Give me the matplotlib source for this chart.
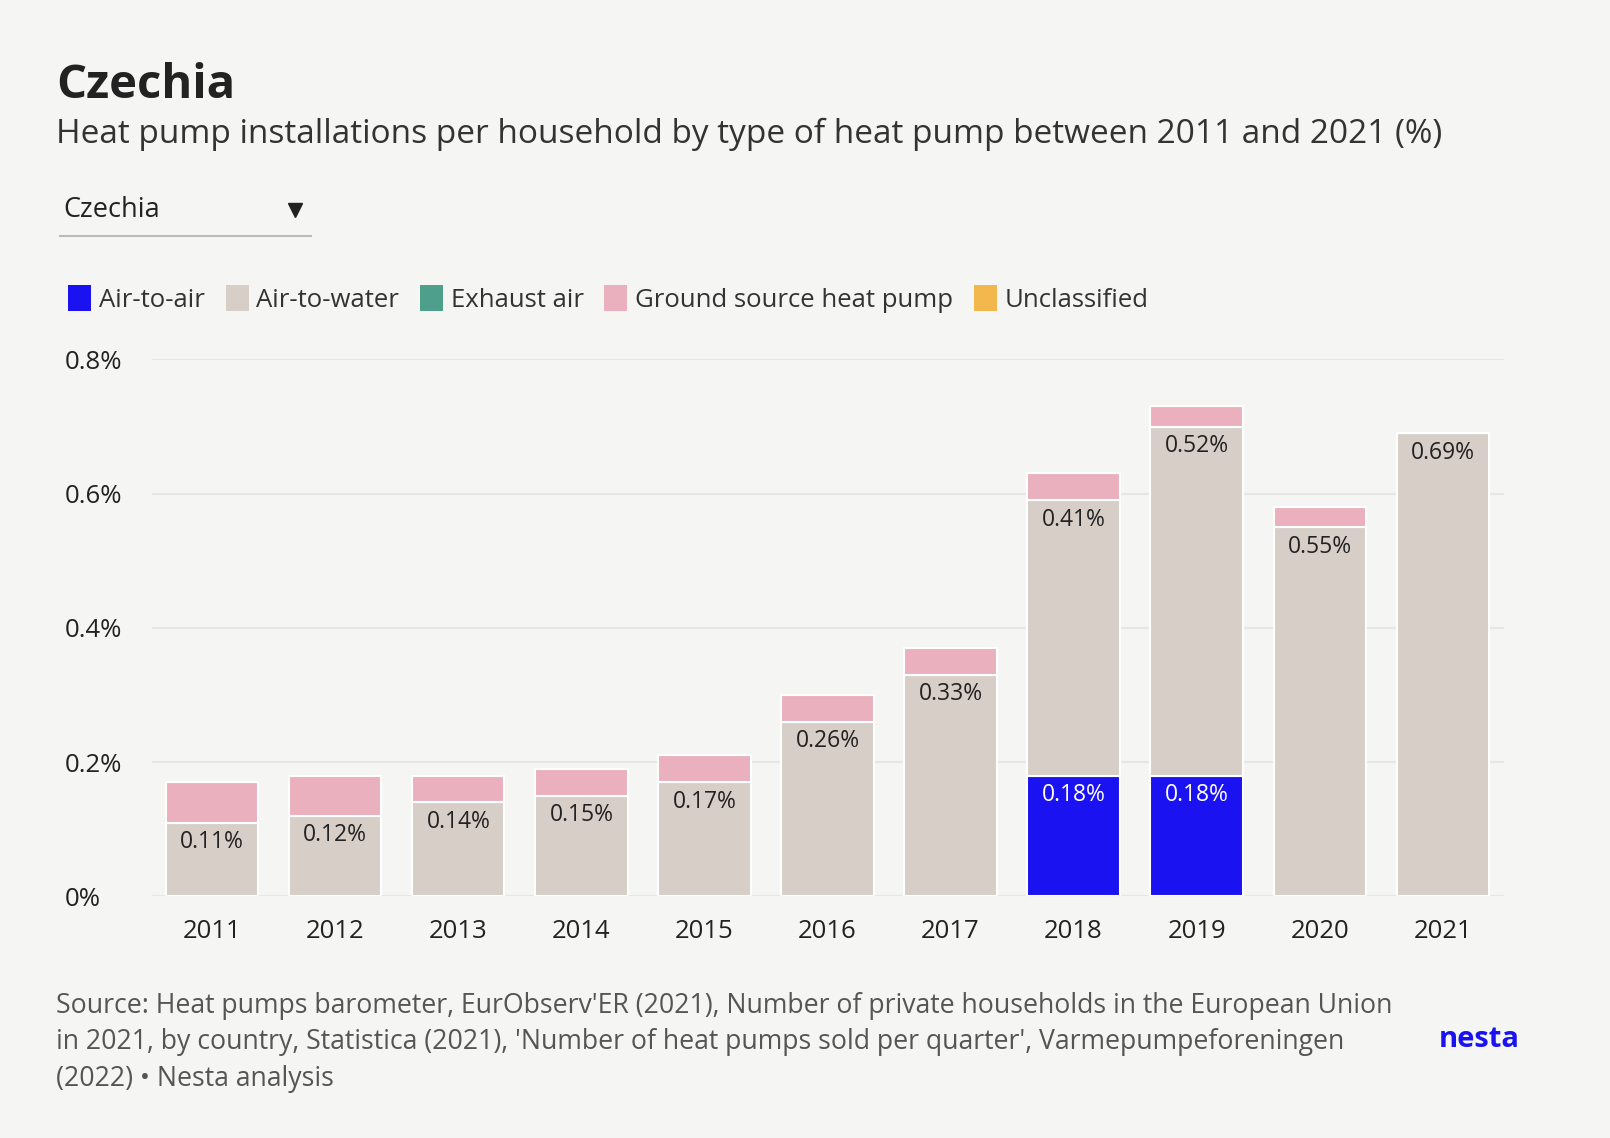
import matplotlib
matplotlib.use("Agg")
import matplotlib.pyplot as plt
from matplotlib.patches import Patch
from matplotlib.lines import Line2D
import numpy as np

plt.rcParams["font.family"] = ["Open Sans", "DejaVu Sans"]

years = ["2011", "2012", "2013", "2014", "2015", "2016", "2017", "2018", "2019", "2020", "2021"]
air_to_air = [0, 0, 0, 0, 0, 0, 0, 0.18, 0.18, 0, 0]
air_to_water = [0.11, 0.12, 0.14, 0.15, 0.17, 0.26, 0.33, 0.41, 0.52, 0.55, 0.69]
exhaust_air = [0] * 11
ground_source = [0.06, 0.06, 0.04, 0.04, 0.04, 0.04, 0.04, 0.04, 0.03, 0.03, 0]
unclassified = [0] * 11

BG = "#f5f6f3"
series = [
    ("Air-to-air", air_to_air, "#1a12f0"),
    ("Air-to-water", air_to_water, "#d6cec7"),
    ("Exhaust air", exhaust_air, "#4fa08b"),
    ("Ground source heat pump", ground_source, "#ebb0be"),
    ("Unclassified", unclassified, "#f3b84d"),
]

W, H = 1610, 1138
S = 1610 / 1568  # reference measured on 1568-wide view


def fx(px):
    return px * S / W


def fy(py):
    return 1 - py * S / H


fig = plt.figure(figsize=(16.1, 11.38), dpi=100, facecolor=BG)
ax = fig.add_axes([fx(148), fy(873), fx(1465) - fx(148), fy(350) - fy(873)])
ax.set_facecolor(BG)

x = np.arange(len(years))
bottom = np.zeros(len(years))
for name, vals, col in series:
    vals = np.array(vals)
    ax.bar(x, vals, 0.75, bottom=bottom, color=col, edgecolor="white", linewidth=1.5)
    if name in ("Air-to-air", "Air-to-water"):
        for xi, b, v in zip(x, bottom, vals):
            if v > 0:
                ax.text(xi, b + v - 0.011, f"{v:.2f}%", ha="center", va="top", fontsize=16.5,
                        color="white" if name == "Air-to-air" else "#222222")
    bottom += vals

ax.set_ylim(0, 0.8)
ax.set_xlim(-0.49, 10.5)
ax.set_yticks([0, 0.2, 0.4, 0.6, 0.8])
ax.set_yticklabels(["0%", "0.2%", "0.4%", "0.6%", "0.8%"])
ax.set_xticks(x)
ax.set_xticklabels(years)
ax.tick_params(length=0, labelsize=18.5, colors="#222222")
ax.tick_params(axis="y", pad=63)
ax.tick_params(axis="x", pad=16)
for lab in ax.get_yticklabels():
    lab.set_horizontalalignment("left")
ax.grid(axis="y", color="#e6e6e4", linewidth=1.5)
ax.set_axisbelow(True)
for s in ax.spines.values():
    s.set_visible(False)

fig.text(fx(55), fy(83), "Czechia", fontsize=34, fontweight="bold", color="#222222", va="center")
fig.text(fx(55), fy(131), "Heat pump installations per household by type of heat pump between 2011 and 2021 (%)",
         fontsize=24, color="#333333", va="center")

# dropdown
fig.text(fx(62), fy(205), "Czechia", fontsize=19.5, color="#222222", va="center")
fig.add_artist(Line2D([fx(58), fx(303)], [fy(230)] * 2, color="#bbbbbb", lw=1.5))
fig.add_artist(Line2D([fx(287)], [fy(205)], marker="v", color="#222222", markersize=10, ls=""))

handles = [Patch(facecolor=c, label=n) for n, _, c in series]
fig.legend(handles=handles, loc="center left", bbox_to_anchor=(fx(44), fy(291)), ncol=5,
           frameon=False, fontsize=18.5, handlelength=0.9, handleheight=1.2, handletextpad=0.3,
           columnspacing=0.8, labelcolor="#333333")

src = ("Source: Heat pumps barometer, EurObserv'ER (2021), Number of private households in the European Union\n"
       "in 2021, by country, Statistica (2021), 'Number of heat pumps sold per quarter', Varmepumpeforeningen\n"
       "(2022) • Nesta analysis")
fig.text(fx(55), fy(1015), src, fontsize=19.2, color="#555555", va="center", linespacing=1.4)
fig.text(fx(1480), fy(1012), "nesta", fontsize=21, fontweight="bold", color="#1a12f0",
         ha="right", va="center")

fig.savefig("out.png", facecolor=BG)
